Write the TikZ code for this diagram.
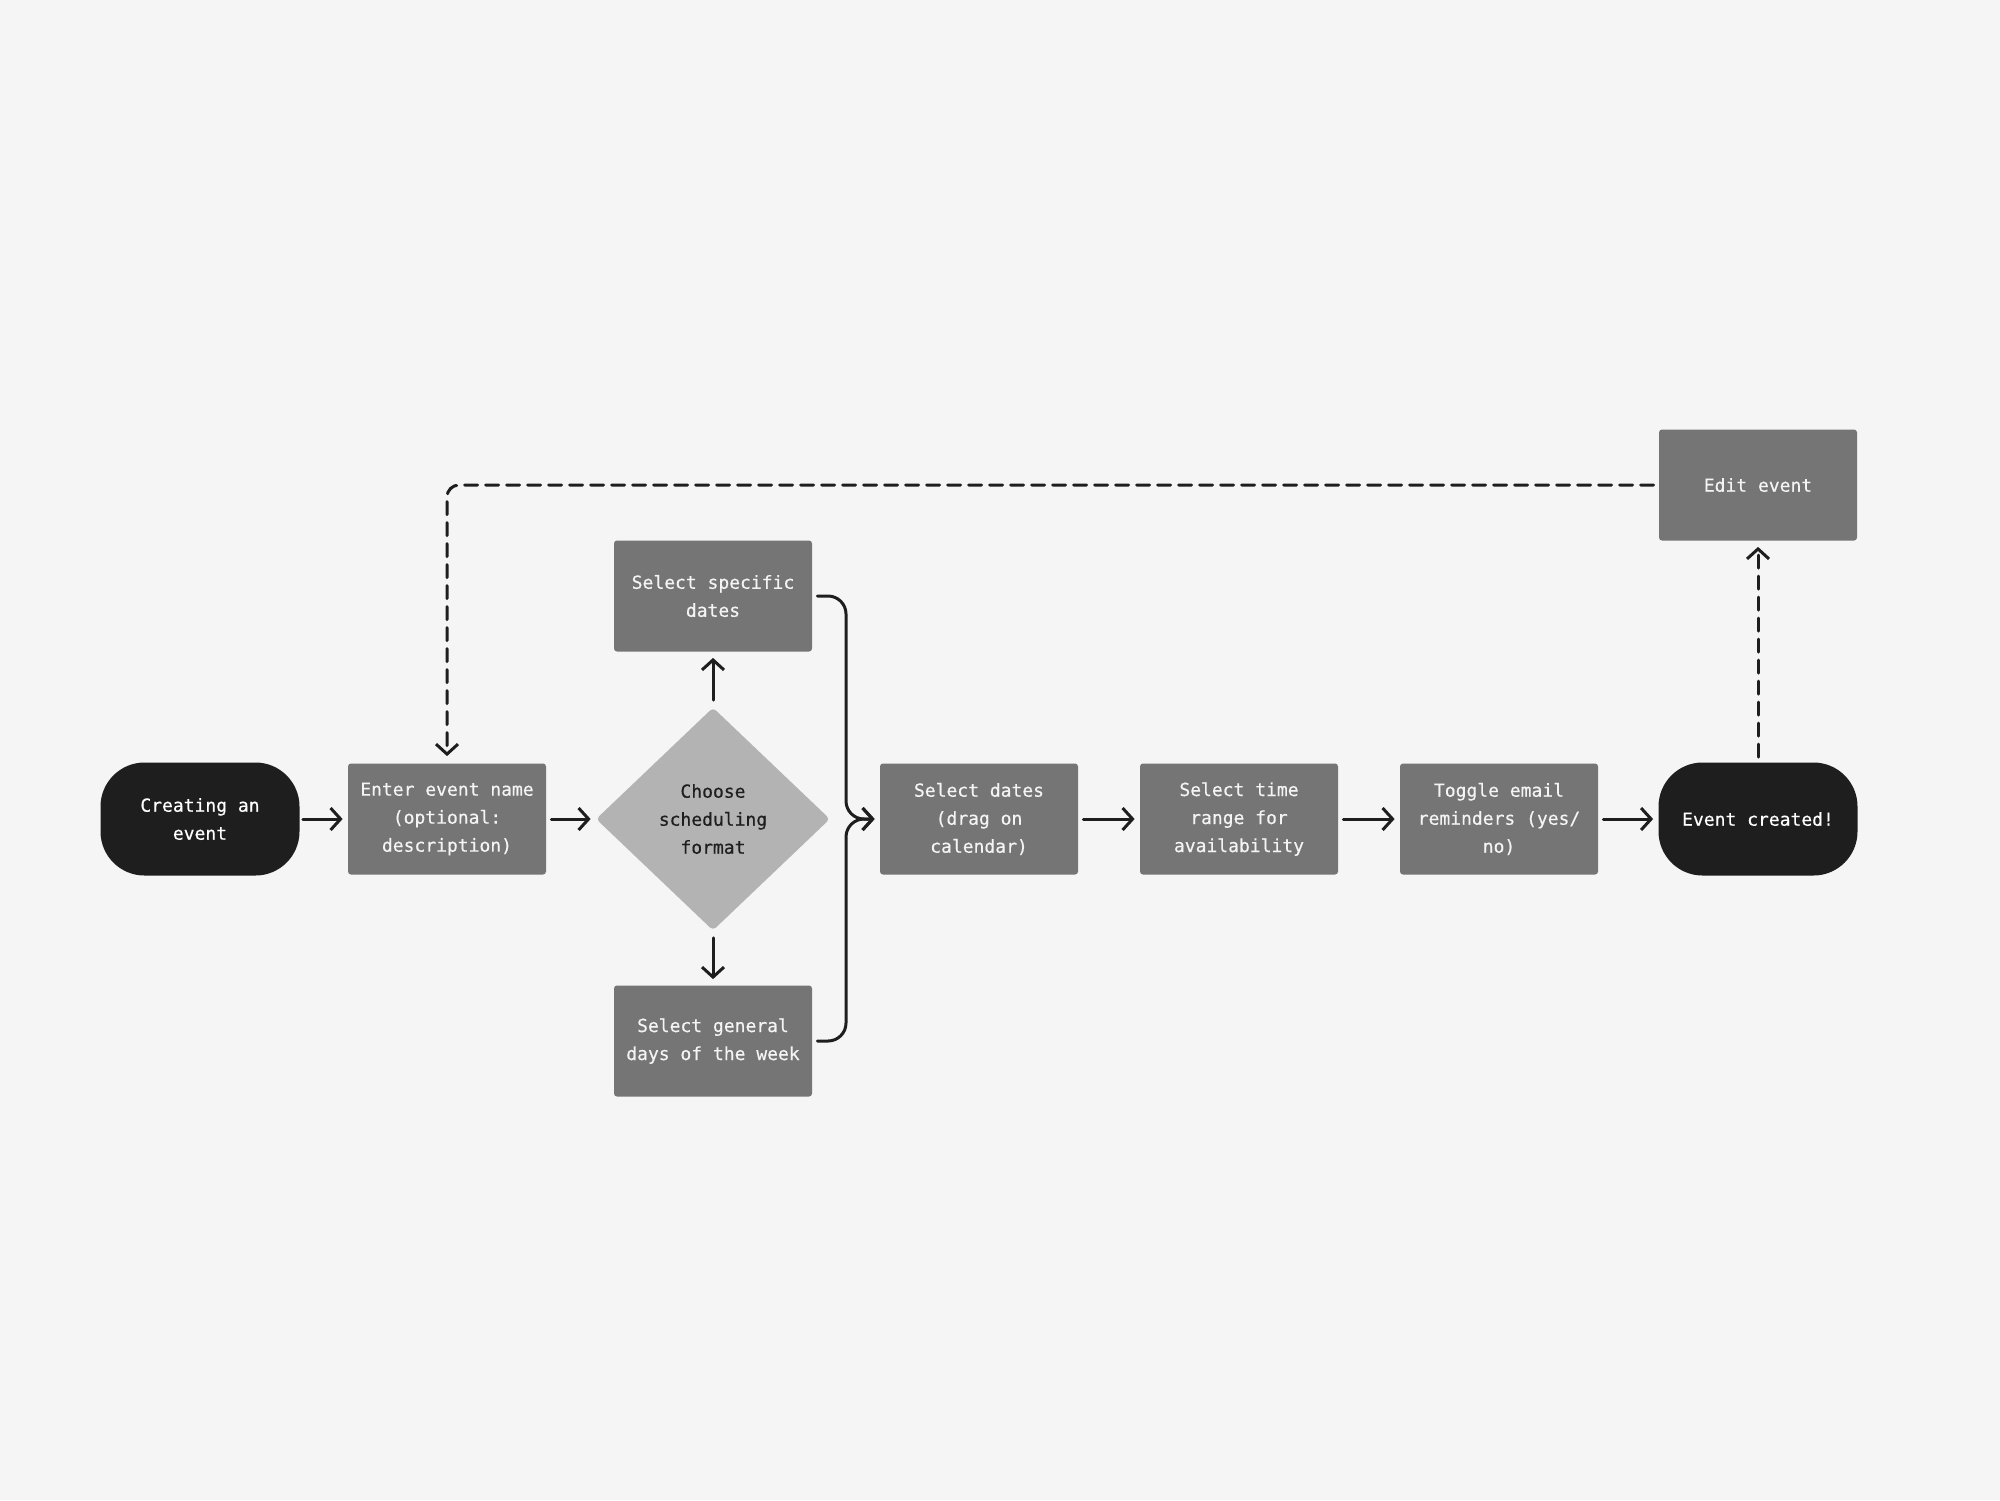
\documentclass[tikz,border=0pt]{standalone}
\usepackage{fontspec}
\newfontfamily\mono[UprightFeatures={FakeBold=0.4}]{DejaVu Sans Mono}
\usetikzlibrary{arrows.meta,shapes.geometric}
\definecolor{bg}{HTML}{F5F5F5}
\definecolor{dark}{HTML}{1E1E1E}
\definecolor{boxgray}{HTML}{757575}
\definecolor{dia}{HTML}{B3B3B3}
\definecolor{txt}{HTML}{F4F4F4}
\begin{document}
\begin{tikzpicture}[x=0.5pt,y=-0.5pt,
 base/.style={font=\mono\fontsize{9}{14}\selectfont, align=center, inner sep=0pt},
 stepbox/.style={base, fill=boxgray, text=txt, rounded corners=1.5pt, minimum width=99pt, minimum height=55.5pt},
 term/.style={base, fill=dark, text=white, rounded corners=22pt, minimum width=99.5pt, minimum height=56.5pt},
 decision/.style={base, diamond, fill=dia, text=dark, minimum width=117pt, minimum height=111.5pt, rounded corners=2pt},
 conn/.style={draw=dark, line width=1.5pt, -{Straight Barb[length=5pt,width=11pt]}, line cap=round, line join=round},
 dashconn/.style={conn, dash pattern=on 6.5pt off 4pt}
]
\fill[bg] (0,0) rectangle (2000,1500);
\useasboundingbox (0,0) rectangle (2000,1500);

\node[term] (start) at (200,819) {Creating an\\event};
\node[stepbox] (enter) at (447,819) {Enter event name\\(optional:\\description)};
\node[decision] (choose) at (713,819) {Choose\\scheduling\\format};
\node[stepbox] (spec) at (713,596) {Select specific\\dates};
\node[stepbox] (gen) at (713,1041) {Select general\\days of the week};
\node[stepbox] (sd) at (979,819) {Select dates\\(drag on\\calendar)};
\node[stepbox] (st) at (1239,819) {Select time\\range for\\availability};
\node[stepbox] (tog) at (1499,819) {Toggle email\\reminders (yes/\\no)};
\node[term] (done) at (1758,819) {Event created!};
\node[stepbox] (edit) at (1758,485) {Edit event};

\draw[conn, shorten <=1.5pt, shorten >=2.5pt] (start) -- (enter);
\draw[conn, shorten <=2.5pt, shorten >=2.5pt] (enter) -- (choose);
\draw[conn, shorten <=3.5pt, shorten >=3pt] (choose) -- (spec);
\draw[conn, shorten <=3.5pt, shorten >=3pt] (choose) -- (gen);
\draw[conn, rounded corners=9pt, shorten <=2.5pt, shorten >=2.5pt] (spec.east) -- (846,596) -- (846,819) -- (sd.west);
\draw[conn, rounded corners=9pt, shorten <=2.5pt, shorten >=2.5pt] (gen.east) -- (846,1041) -- (846,819) -- (sd.west);
\draw[conn, shorten <=2.5pt, shorten >=2.5pt] (sd) -- (st);
\draw[conn, shorten <=2.5pt, shorten >=2.5pt] (st) -- (tog);
\draw[conn, shorten <=2.5pt, shorten >=2.5pt] (tog) -- (done);
\draw[dashconn, shorten <=2.5pt, shorten >=3pt] (done) -- (edit);
\draw[dashconn, rounded corners=6pt, shorten <=2.5pt, shorten >=3.5pt] (edit.west) -- (enter.north |- edit.west) -- (enter.north);
\end{tikzpicture}
\end{document}
